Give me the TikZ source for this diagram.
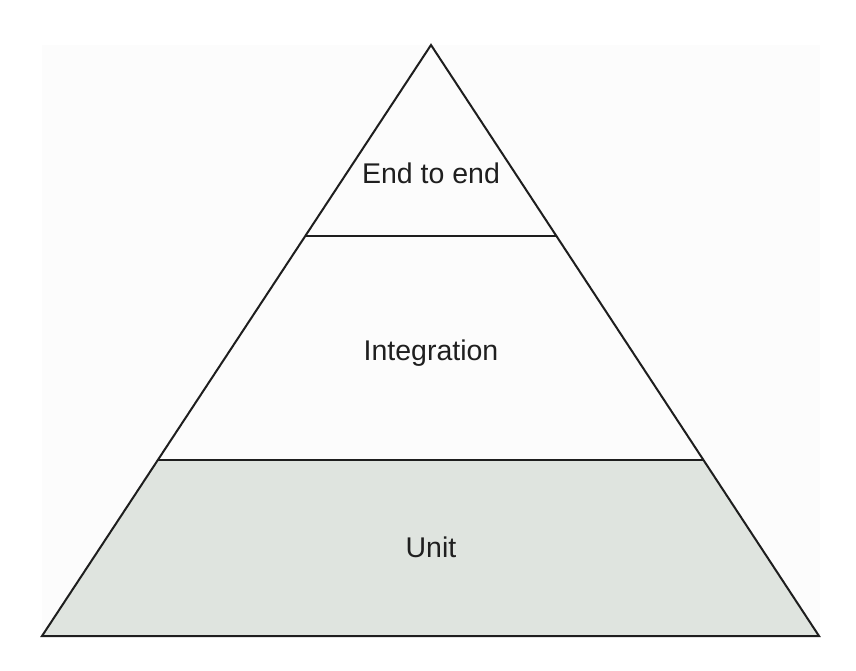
\documentclass[tikz,border=0pt]{standalone}
\usepackage{fontspec}
\setmainfont{Liberation Sans}
\usetikzlibrary{calc}
\definecolor{unitfill}{RGB}{223,228,223}
\definecolor{panelgray}{RGB}{252,252,252}
\definecolor{edgegray}{RGB}{30,30,30}
\tikzset{layer/.style={font=\fontsize{28.5}{34}\selectfont, text=black!88, anchor=base}}

\begin{document}
\begin{tikzpicture}[x=1pt, y=-1pt, line width=2pt]
          \useasboundingbox (0,0) rectangle (856,671);
          \fill[panelgray] (42,45) rectangle (820,636);

          \coordinate (apex) at (431,45);
          \coordinate (bl) at (42,636);
          \coordinate (br) at (819,636);
          \coordinate (tl) at ($(apex)!0.323!(bl)$);
          \coordinate (tr) at ($(apex)!0.323!(br)$);
          \coordinate (ml) at ($(apex)!0.702!(bl)$);
          \coordinate (mr) at ($(apex)!0.702!(br)$);

          \fill[unitfill] (ml) -- (mr) -- (br) -- (bl) -- cycle;
          \draw[edgegray] (apex) -- (bl) -- (br) -- cycle;
          \draw[edgegray] (tl) -- (tr);
          \draw[edgegray] (ml) -- (mr);

          \node[layer] (endtoend) at (431,184) {End to end};
          \node[layer] (integration) at (431,360) {Integration};
          \node[layer] (unit) at (431,557) {Unit};
        \end{tikzpicture}
\end{document}
